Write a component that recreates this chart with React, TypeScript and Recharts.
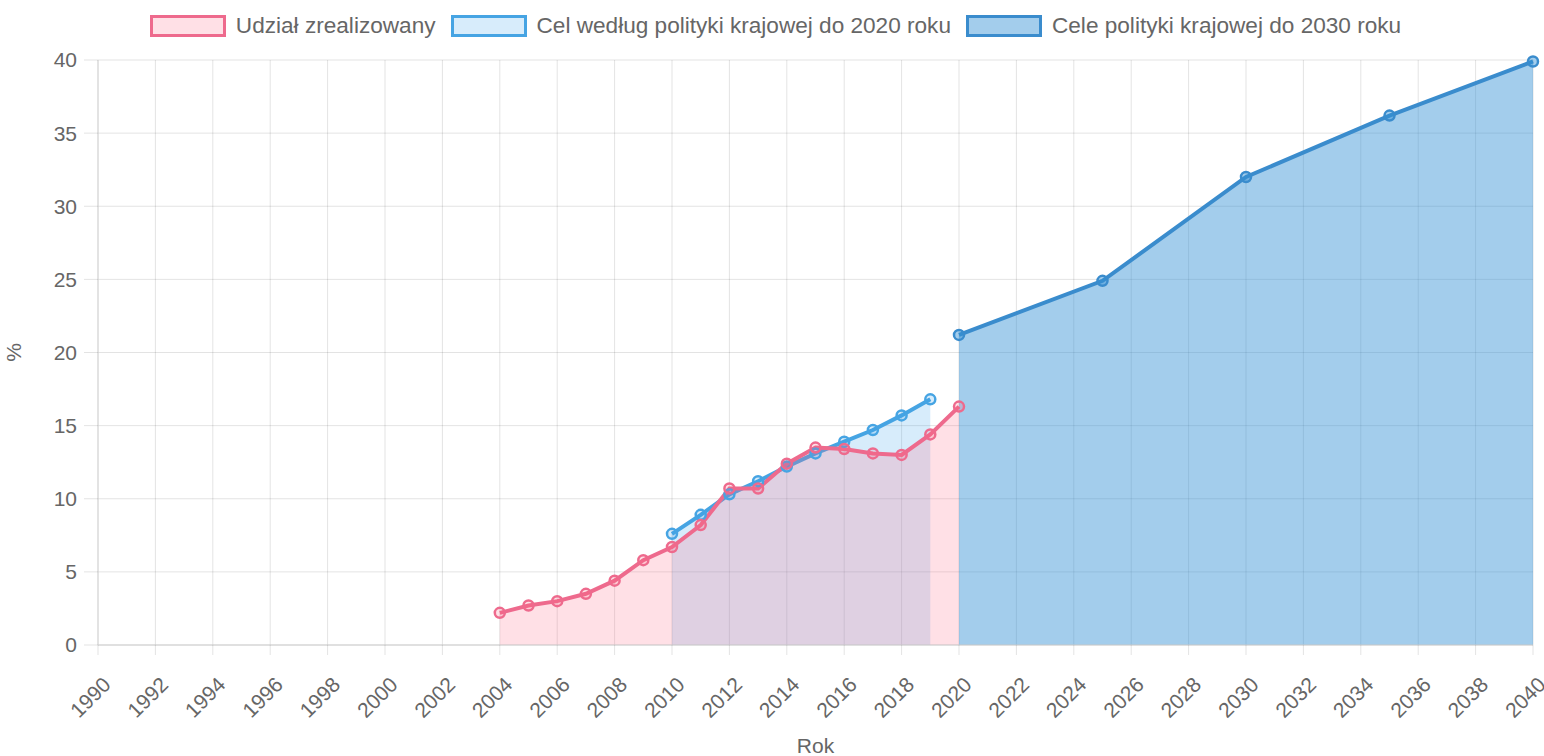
import React from "react";
import {
  ComposedChart,
  Area,
  XAxis,
  YAxis,
  CartesianGrid,
  Legend,
} from "recharts";

const FONT = '"Liberation Sans", Arial, Helvetica, sans-serif';
const TEXT = "#666666";

const PINK_LINE = "#ee6a8d";
const PINK_FILL = "rgba(255, 99, 132, 0.2)";
const LIGHT_BLUE_LINE = "#46a4e3";
const LIGHT_BLUE_FILL = "rgba(54, 162, 235, 0.2)";
const DARK_BLUE_LINE = "#3a8ccd";
const DARK_BLUE_FILL = "rgba(51, 144, 213, 0.45)";

// udział zrealizowany
const realizedYears = [2004, 2005, 2006, 2007, 2008, 2009, 2010, 2011, 2012, 2013, 2014, 2015, 2016, 2017, 2018, 2019, 2020];
const realizedShare = [2.2, 2.7, 3.0, 3.5, 4.4, 5.8, 6.7, 8.2, 10.7, 10.7, 12.4, 13.5, 13.4, 13.1, 13.0, 14.4, 16.3];

// cel do 2020 roku
const target2020Years = [2010, 2011, 2012, 2013, 2014, 2015, 2016, 2017, 2018, 2019];
const target2020Share = [7.6, 8.9, 10.3, 11.2, 12.2, 13.1, 13.9, 14.7, 15.7, 16.8];

// cele do 2030 roku
const target2030Years = [2020, 2025, 2030, 2035, 2040];
const target2030Share = [21.2, 24.9, 32.0, 36.2, 39.9];

const xTicks = [1990, 1992, 1994, 1996, 1998, 2000, 2002, 2004, 2006, 2008, 2010, 2012, 2014, 2016, 2018, 2020, 2022, 2024, 2026, 2028, 2030, 2032, 2034, 2036, 2038, 2040];
const yTicks = [0, 5, 10, 15, 20, 25, 30, 35, 40];

const seriesNames = [
  "Udział zrealizowany",
  "Cel według polityki krajowej do 2020 roku",
  "Cele polityki krajowej do 2030 roku",
];

const lookup = (years: number[], values: number[], y: number) => {
  const i = years.indexOf(y);
  return i === -1 ? null : values[i];
};

const allYears = Array.from(
  new Set([...realizedYears, ...target2020Years, ...target2030Years])
).sort((a, b) => a - b);

const data = allYears.map((year) => ({
  year,
  realized: lookup(realizedYears, realizedShare, year),
  target2020: lookup(target2020Years, target2020Share, year),
  target2030: lookup(target2030Years, target2030Share, year),
}));

const legendItems = [
  { name: seriesNames[0], stroke: PINK_LINE, fill: PINK_FILL },
  { name: seriesNames[1], stroke: LIGHT_BLUE_LINE, fill: LIGHT_BLUE_FILL },
  { name: seriesNames[2], stroke: DARK_BLUE_LINE, fill: DARK_BLUE_FILL },
];

function TopLegend() {
  return (
    <div
      style={{
        height: 60,
        boxSizing: "border-box",
        paddingTop: 15,
        paddingLeft: 18,
        display: "flex",
        justifyContent: "center",
        alignItems: "flex-start",
        fontFamily: FONT,
        fontSize: 22.6,
        color: TEXT,
      }}
    >
      {legendItems.map((it, i) => (
        <div
          key={it.name}
          style={{ display: "flex", alignItems: "center", marginRight: i < legendItems.length - 1 ? 15 : 0 }}
        >
          <span
            style={{
              display: "inline-block",
              width: 76,
              height: 22,
              boxSizing: "border-box",
              border: `3px solid ${it.stroke}`,
              background: it.fill,
              marginRight: 10,
            }}
          />
          <span style={{ lineHeight: "22px" }}>{it.name}</span>
        </div>
      ))}
    </div>
  );
}

function YearTick(props: any) {
  const { x, y, payload } = props;
  const ax = x + 14;
  const ay = y + 31;
  return (
    <text
      x={ax}
      y={ay}
      transform={`rotate(-45, ${ax}, ${ay})`}
      textAnchor="end"
      fill={TEXT}
      fontSize={21}
      fontFamily={FONT}
    >
      {payload.value}
    </text>
  );
}

export default function App() {
  return (
    <div style={{ position: "absolute", left: 0, top: 0, background: "#fff" }}>
      <ComposedChart
        width={1544}
        height={756}
        data={data}
        margin={{ top: 0, right: 11, bottom: 0, left: 0 }}
      >
        <Legend verticalAlign="top" align="center" content={() => <TopLegend />} />
        <CartesianGrid stroke="rgba(0,0,0,0.11)" />
        <XAxis
          type="number"
          dataKey="year"
          domain={[1990, 2040]}
          ticks={xTicks}
          interval={0}
          height={111}
          tickSize={10}
          tickMargin={0}
          tickLine={{ stroke: "rgba(0,0,0,0.11)" }}
          axisLine={{ stroke: "#cfcfcf" }}
          tick={<YearTick />}
          label={{
            value: "Rok",
            position: "insideBottom",
            offset: 3,
            fill: TEXT,
            fontSize: 21,
            fontFamily: FONT,
          }}
        />
        <YAxis
          type="number"
          domain={[0, 40]}
          ticks={yTicks}
          width={98}
          tickSize={14}
          tickMargin={7}
          tickLine={{ stroke: "rgba(0,0,0,0.11)" }}
          axisLine={{ stroke: "#d5d5d5" }}
          tick={{ fill: TEXT, fontSize: 21, fontFamily: FONT }}
          label={{
            value: "%",
            angle: -90,
            position: "insideLeft",
            offset: 14,
            fill: TEXT,
            fontSize: 21,
            fontFamily: FONT,
            style: { textAnchor: "middle" },
          }}
        />
        <Area
          type="linear"
          dataKey="target2030"
          name={seriesNames[2]}
          stroke={DARK_BLUE_LINE}
          strokeWidth={4}
          fill={DARK_BLUE_FILL}
          fillOpacity={1}
          connectNulls
          dot={{ r: 5, stroke: DARK_BLUE_LINE, strokeWidth: 2.5, fill: DARK_BLUE_FILL }}
          activeDot={false}
          isAnimationActive={false}
        />
        <Area
          type="linear"
          dataKey="target2020"
          name={seriesNames[1]}
          stroke={LIGHT_BLUE_LINE}
          strokeWidth={4}
          fill={LIGHT_BLUE_FILL}
          fillOpacity={1}
          dot={{ r: 5, stroke: LIGHT_BLUE_LINE, strokeWidth: 2.5, fill: LIGHT_BLUE_FILL }}
          activeDot={false}
          isAnimationActive={false}
        />
        <Area
          type="linear"
          dataKey="realized"
          name={seriesNames[0]}
          stroke={PINK_LINE}
          strokeWidth={4}
          fill={PINK_FILL}
          fillOpacity={1}
          dot={{ r: 5, stroke: PINK_LINE, strokeWidth: 2.5, fill: PINK_FILL }}
          activeDot={false}
          isAnimationActive={false}
        />
      </ComposedChart>
    </div>
  );
}
